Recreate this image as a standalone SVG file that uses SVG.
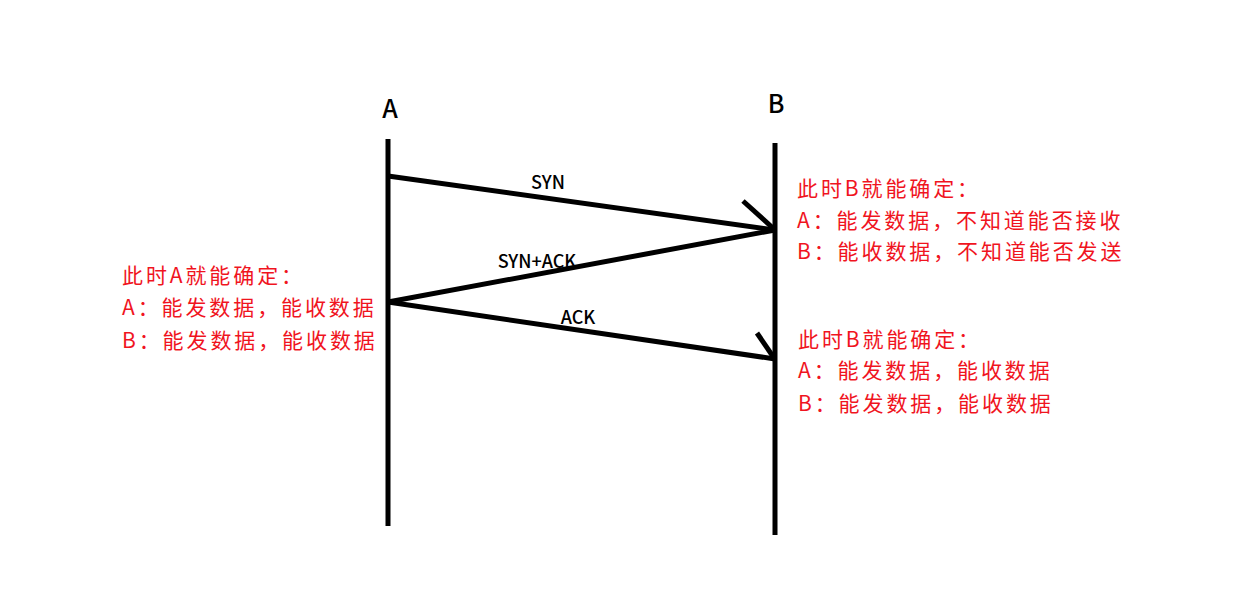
<svg xmlns="http://www.w3.org/2000/svg" width="1236" height="608" viewBox="0 0 1236 608">
<style>
.life{stroke:#000;stroke-width:5;stroke-linecap:butt;fill:none}
.msg{stroke:#000;stroke-width:5;stroke-linecap:butt;fill:none}
.lbl{font-family:"Noto Sans CJK SC","Liberation Sans",sans-serif;fill:#000;font-weight:500}
.note{font-family:"Noto Sans CJK SC","Liberation Sans",sans-serif;fill:#f0141e;font-size:21px;letter-spacing:2.9px}
</style>
<rect width="1236" height="608" fill="#fff"/>
<g id="nodeA">
<text class="lbl" x="390" y="118" font-size="25" text-anchor="middle">A</text>
<line class="life" x1="388" y1="139" x2="388" y2="526"/>
</g>
<g id="nodeB">
<text class="lbl" x="776" y="113" font-size="25" text-anchor="middle">B</text>
<line class="life" x1="775" y1="143" x2="775" y2="535"/>
</g>
<g id="connectors">
<line class="msg" x1="388" y1="176" x2="775" y2="230"/>
<line class="msg" x1="743" y1="201" x2="774" y2="229"/>
<text class="lbl" x="548" y="189" font-size="18" text-anchor="middle">SYN</text>
<line class="msg" x1="775" y1="230" x2="388" y2="302"/>
<text class="lbl" x="537" y="268" font-size="18" text-anchor="middle">SYN+ACK</text>
<line class="msg" x1="388" y1="302" x2="775" y2="359"/>
<line class="msg" x1="757" y1="333" x2="774" y2="358"/>
<text class="lbl" x="578" y="324" font-size="18" text-anchor="middle">ACK</text>
</g>
<g id="noteA">
<text class="note" x="122" y="283">此时A就能确定：</text>
<text class="note" x="122" y="315">A：能发数据，能收数据</text>
<text class="note" x="122" y="348">B：能发数据，能收数据</text>
</g>
<g id="noteB1">
<text class="note" x="797" y="196">此时B就能确定：</text>
<text class="note" x="797" y="228">A：能发数据，不知道能否接收</text>
<text class="note" x="797" y="259">B：能收数据，不知道能否发送</text>
</g>
<g id="noteB2">
<text class="note" x="798" y="347">此时B就能确定：</text>
<text class="note" x="798" y="378">A：能发数据，能收数据</text>
<text class="note" x="798" y="411">B：能发数据，能收数据</text>
</g>
</svg>
